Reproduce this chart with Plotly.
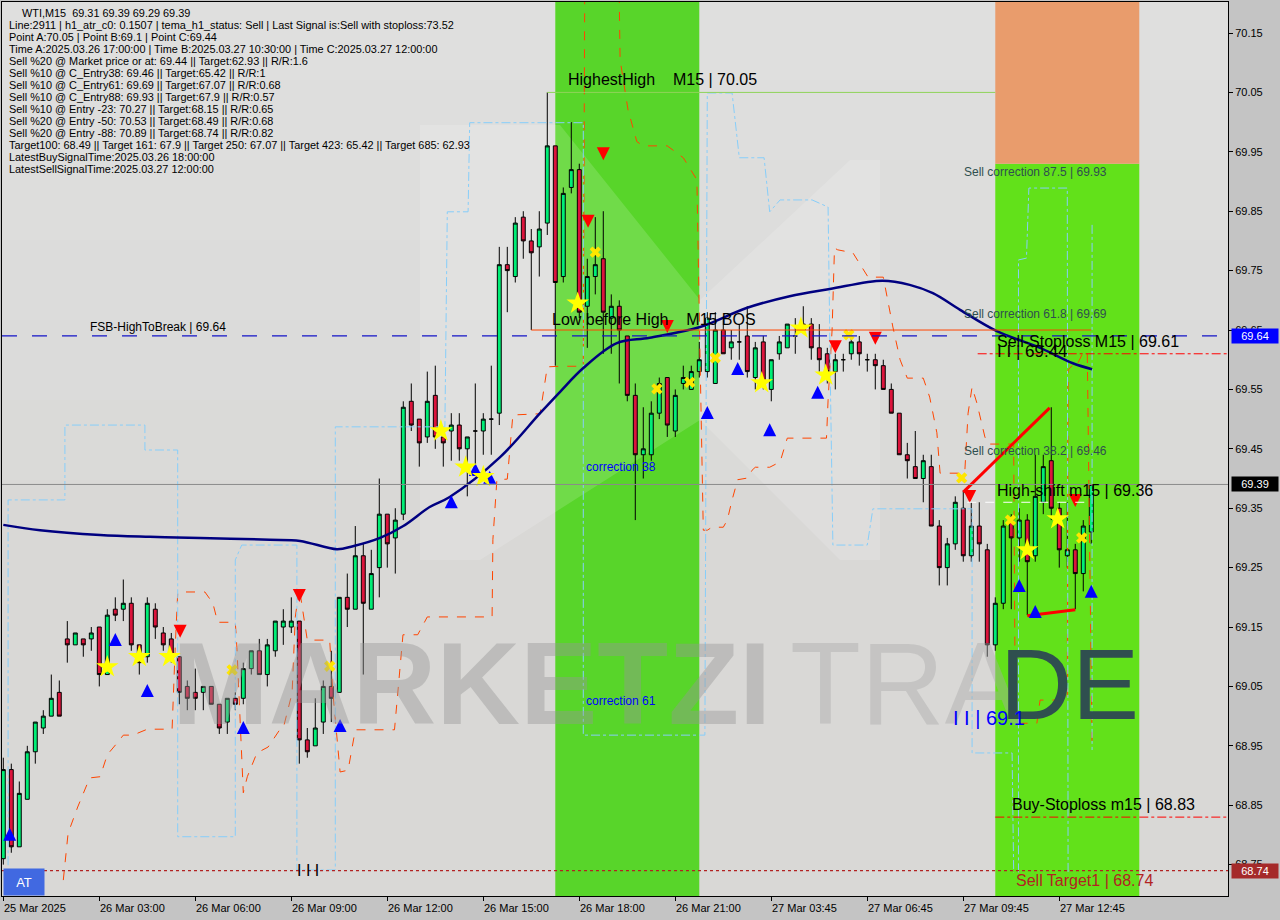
import plotly.graph_objects as go

W, H = 1280, 920
ML, MR, MT, MB = 2, 52, 2, 24
Y_MIN, Y_MAX = 68.6972, 70.2022
X_MIN, X_MAX = -0.1625, 153.09

# ---------------- data ----------------
opens = [68.76,68.91,68.78,68.86,68.94,68.98,69.00,69.04,69.13,69.12,69.13,69.13,69.15,69.07,69.18,69.18,69.19,69.12,69.10,69.18,
         69.14,69.13,69.10,69.05,69.04,69.04,69.05,69.02,68.99,69.03,69.03,69.08,69.11,69.07,69.11,69.15,69.15,69.16,68.96,68.95,
         68.99,69.05,69.04,69.20,69.18,69.27,69.18,69.25,69.34,69.30,69.34,69.53,69.50,69.47,69.54,69.47,69.48,69.49,69.45,69.48,
         69.48,69.50,69.51,69.76,69.74,69.84,69.80,69.79,69.83,69.96,69.74,69.89,69.92,69.69,69.74,69.77,69.67,69.69,69.64,69.54,
         69.44,69.44,69.51,69.57,69.48,69.56,69.55,69.58,69.58,69.56,69.65,69.62,69.63,69.64,69.57,69.63,69.55,69.61,69.62,69.64,
         69.66,69.66,69.62,69.61,69.58,69.60,69.61,69.63,69.60,69.60,69.59,69.55,69.51,69.44,69.42,69.40,69.42,69.32,69.25,69.29,
         69.35,69.27,69.32,69.28,69.12,69.19,69.33,69.30,69.33,69.27,69.36,69.43,69.35,69.27,69.28,69.24,69.31]
highs = [68.93,68.92,68.89,68.95,68.99,69.01,69.07,69.06,69.16,69.14,69.13,69.15,69.15,69.18,69.20,69.23,69.20,69.12,69.20,69.19,
         69.15,69.14,69.10,69.06,69.08,69.05,69.05,69.02,69.03,69.04,69.09,69.11,69.13,69.13,69.16,69.18,69.20,69.16,68.98,69.03,
         69.06,69.11,69.20,69.24,69.32,69.29,69.28,69.40,69.34,69.35,69.53,69.56,69.50,69.58,69.59,69.48,69.51,69.51,69.47,69.56,
         69.51,69.59,69.79,69.79,69.84,69.85,69.82,69.85,70.05,69.96,69.89,70.00,69.93,69.77,69.84,69.85,69.71,69.70,69.64,69.56,
         69.52,69.53,69.57,69.57,69.55,69.59,69.59,69.63,69.68,69.68,69.67,69.65,69.66,69.69,69.63,69.64,69.60,69.64,69.66,69.67,
         69.69,69.67,69.66,69.62,69.61,69.61,69.64,69.64,69.61,69.61,69.60,69.56,69.51,69.46,69.48,69.44,69.44,69.33,69.30,69.37,
         69.38,69.36,69.36,69.29,69.20,69.33,69.34,69.35,69.34,69.44,69.44,69.52,69.36,69.36,69.29,69.33,69.39]
lows = [68.75,68.77,68.78,68.86,68.92,68.97,69.00,69.00,69.09,69.12,69.10,69.11,69.05,69.07,69.16,69.16,69.11,69.07,69.09,69.13,
        69.11,69.09,69.02,69.01,69.01,69.01,69.02,68.97,68.97,69.01,69.02,69.07,69.07,69.05,69.10,69.12,69.14,68.92,68.93,68.95,
        68.97,68.99,69.04,69.15,69.18,69.07,69.18,69.20,69.25,69.24,69.33,69.48,69.42,69.46,69.45,69.42,69.43,69.43,69.37,69.41,
        69.44,69.44,69.49,69.68,69.73,69.77,69.65,69.74,69.81,69.59,69.73,69.88,69.67,69.62,69.71,69.61,69.61,69.56,69.53,69.33,
        69.40,69.43,69.50,69.47,69.47,69.55,69.55,69.57,69.57,69.56,69.61,69.60,69.60,69.57,69.55,69.55,69.53,69.60,69.62,69.61,
        69.65,69.60,69.58,69.56,69.55,69.58,69.60,69.59,69.58,69.55,69.55,69.51,69.44,69.40,69.40,69.36,69.32,69.22,69.22,69.28,
        69.26,69.26,69.26,69.10,69.11,69.18,69.18,69.26,69.17,69.26,69.34,69.33,69.25,69.25,69.18,69.21,69.29]
closes = [68.91,68.78,68.87,68.94,68.99,69.00,69.03,69.00,69.12,69.14,69.12,69.14,69.07,69.17,69.17,69.19,69.12,69.09,69.19,69.15,
          69.12,69.10,69.04,69.03,69.03,69.05,69.02,68.98,69.03,69.02,69.08,69.11,69.07,69.12,69.16,69.16,69.16,68.96,68.94,68.98,
          69.05,69.03,69.20,69.18,69.27,69.19,69.24,69.34,69.29,69.33,69.52,69.49,69.46,69.53,69.47,69.46,69.49,69.45,69.47,69.48,
          69.50,69.50,69.76,69.75,69.83,69.80,69.78,69.82,69.96,69.73,69.88,69.92,69.68,69.74,69.76,69.68,69.69,69.65,69.54,69.44,
          69.45,69.51,69.56,69.49,69.54,69.57,69.58,69.60,69.67,69.65,69.61,69.63,69.63,69.58,69.62,69.56,69.60,69.63,69.66,69.64,
          69.65,69.62,69.60,69.58,69.60,69.60,69.63,69.61,69.60,69.59,69.55,69.51,69.44,69.43,69.40,69.43,69.32,69.25,69.29,69.36,
          69.27,69.32,69.29,69.12,69.19,69.32,69.30,69.33,69.26,69.37,69.42,69.35,69.28,69.28,69.24,69.32,69.39]
bars = list(range(len(opens)))

tick_bars = [0, 12, 24, 36, 48, 60, 72, 84, 96, 108, 120, 132]
tick_texts = ["25 Mar 2025", "26 Mar 03:00", "26 Mar 06:00", "26 Mar 09:00", "26 Mar 12:00", "26 Mar 15:00",
              "26 Mar 18:00", "26 Mar 21:00", "27 Mar 03:45", "27 Mar 06:45", "27 Mar 09:45", "27 Mar 12:45"]
price_ticks = [70.15, 70.05, 69.95, 69.85, 69.75, 69.65, 69.55, 69.45, 69.35, 69.25, 69.15, 69.05, 68.95, 68.85, 68.75]

ma_bar = [0, 4.6, 12.1, 18.3, 24.6, 33.3, 37.1, 41.7, 43.7, 47.1, 50.0, 53.3, 55.8, 62.1, 67.1, 69.6, 72.5, 76.7,
          80.8, 87.1, 92.9, 98.3, 103.3, 109.9, 113.3, 116.2, 119.6, 124.2, 129.6, 133.7, 136.1]
ma_val = [69.322, 69.313, 69.305, 69.302, 69.300, 69.297, 69.295, 69.281, 69.286, 69.300, 69.320, 69.352, 69.369,
          69.436, 69.510, 69.546, 69.586, 69.628, 69.637, 69.655, 69.687, 69.707, 69.719, 69.733, 69.726, 69.712,
          69.684, 69.648, 69.620, 69.594, 69.584]

env_red_bar = [7.5, 8.1, 9.3, 10.8, 12.1, 13.0, 14.3, 15.0, 16.2, 18.0, 21.1, 21.2, 21.5, 21.8, 22.3, 25.2, 26.2, 26.8,
               29.0, 29.2, 29.6, 30.0, 30.5, 31.7, 33.1, 34.6, 35.0, 36.1, 36.5, 37.0, 38.0, 40.8, 41.2, 41.7, 42.1,
               43.1, 44.0, 48.9, 49.96, 51.8, 53.0, 61.1, 61.2, 61.7, 63.0, 63.7, 67.1, 68.0, 69.6, 72.5, 72.7, 76.9,
               77.1, 78.1, 79.2, 80.0, 83.0, 85.0, 86.7, 87.1, 87.5, 88.0, 88.6, 90.0, 90.5, 91.1, 91.8, 93.1, 93.6,
               94.0, 95.8, 97.1, 98.0, 102.9, 103.1, 103.6, 103.9, 104.3, 106.2, 108.1, 110.0, 111.2, 112.1, 113.0,
               115.0, 115.8, 116.7, 117.1, 120.0, 120.2, 120.6, 121.1, 121.7, 122.7, 123.1, 126.1, 126.3, 126.5,
               129.2, 129.6, 133.0, 133.1, 133.7, 134.1, 135.0, 135.5, 136.1]
env_red_val = [68.724, 68.803, 68.847, 68.896, 68.898, 68.935, 68.956, 68.968, 68.968, 68.978, 68.978, 69.022, 69.120,
               69.207, 69.209, 69.209, 69.190, 69.158, 69.158, 69.116, 68.999, 68.871, 68.898, 68.938, 68.948, 68.978,
               68.980, 69.039, 69.167, 69.216, 69.128, 69.128, 69.039, 68.965, 68.906, 68.909, 68.977, 68.977, 69.137,
               69.137, 69.167, 69.167, 69.297, 69.398, 69.399, 69.507, 69.509, 69.588, 69.589, 69.589, 70.30, 70.30,
               70.105, 70.020, 69.967, 69.960, 69.960, 69.940, 69.903, 69.600, 69.313, 69.313, 69.318, 69.318, 69.330,
               69.364, 69.398, 69.401, 69.414, 69.419, 69.419, 69.428, 69.468, 69.468, 69.532, 69.650, 69.788, 69.785,
               69.780, 69.739, 69.739, 69.655, 69.600, 69.569, 69.569, 69.537, 69.477, 69.409, 69.409, 69.414, 69.510,
               69.554, 69.527, 69.470, 69.458, 69.458, 69.458, 68.988, 68.988, 69.027, 69.027, 69.583, 69.591, 69.588,
               69.613, 69.613, 68.948]

env_blue_bar = [0.6, 0.6, 7.7, 7.7, 17.7, 17.7, 21.8, 21.8, 29.0, 29.0, 29.8, 36.7, 36.7, 41.5, 41.5, 55.2, 55.5, 58.1,
                58.3, 72.1, 72.5, 72.5, 86.8, 87.7, 88.0, 91.1, 92.0, 95.1, 95.8, 97.1, 101.1, 103.1, 103.4, 103.7,
                108.0, 108.7, 121.1, 121.1, 126.1, 126.3, None, 126.9, 126.9, 127.9, 128.2, 133.0, 133.1, None,
                136.1, 136.1]
env_blue_val = [68.749, 69.364, 69.364, 69.490, 69.490, 69.448, 69.448, 68.797, 68.797, 69.263, 69.288, 69.288, 68.741,
                68.741, 69.487, 69.487, 69.849, 69.849, 69.999, 69.999, 69.999, 68.968, 68.968, 68.968, 70.049, 70.049,
                69.940, 69.940, 69.849, 69.869, 69.869, 69.857, 69.549, 69.288, 69.288, 69.349, 69.349, 68.938, 68.938,
                68.737, None, 68.737, 69.768, 69.771, 69.889, 69.889, 68.737, None, 69.827, 68.943]

buy_arrow_bar = [0.8, 14.0, 18.0, 30.0, 42.1, 56.0, 59.0, 60.8, 88.0, 91.8, 95.8, 101.8, 127.0, 129.0, 136.0]
buy_arrow_val = [68.812, 69.140, 69.054, 68.992, 68.995, 69.372, 69.426, 69.413, 69.522, 69.596, 69.493, 69.556,
                 69.231, 69.187, 69.221]
sell_arrow_bar = [22.1, 37.0, 73.1, 75.0, 83.0, 104.0, 109.0, 120.8, 134.0]
sell_arrow_val = [69.132, 69.192, 69.822, 69.936, 69.645, 69.611, 69.625, 69.359, 69.352]
star_bar = [13.0, 17.0, 20.8, 54.7, 57.8, 60.0, 71.8, 94.8, 99.7, 102.8, 128.0, 131.8]
star_val = [69.083, 69.100, 69.100, 69.480, 69.419, 69.403, 69.695, 69.561, 69.653, 69.574, 69.280, 69.332]
cross_bar = [28.6, 40.8, 74.0, 81.7, 85.8, 89.0, 105.7, 119.8, 125.9, 134.8]
cross_val = [69.078, 69.084, 69.781, 69.551, 69.562, 69.603, 69.642, 69.401, 69.330, 69.300]

trend_hi_bar, trend_hi_val = [120.0, 130.8], [69.377, 69.519]
trend_lo_bar, trend_lo_val = [128.0, 134.0], [69.169, 69.179]

zone_bars = [(69, 87), (124, 142)]
sell_zone_top = 69.93

highest_high = 70.05
low_before_high = 69.65
fsb_level = 69.64
last_price = 69.39
sell_stoploss = 69.61
buy_stoploss = 68.83
sell_target1 = 68.74
high_shift = 69.36
corr_875, corr_618, corr_382 = 69.93, 69.69, 69.46
point_b = 69.1
point_c = 69.44

header_lines = [
    "WTI,M15  69.31 69.39 69.29 69.39",
    "Line:2911 | h1_atr_c0: 0.1507 | tema_h1_status: Sell | Last Signal is:Sell with stoploss:73.52",
    "Point A:70.05 | Point B:69.1 | Point C:69.44",
    "Time A:2025.03.26 17:00:00 | Time B:2025.03.27 10:30:00 | Time C:2025.03.27 12:00:00",
    "Sell %20 @ Market price or at: 69.44 || Target:62.93 || R/R:1.6",
    "Sell %10 @ C_Entry38: 69.46 || Target:65.42 || R/R:1",
    "Sell %10 @ C_Entry61: 69.69 || Target:67.07 || R/R:0.68",
    "Sell %10 @ C_Entry88: 69.93 || Target:67.9 || R/R:0.57",
    "Sell %10 @ Entry -23: 70.27 || Target:68.15 || R/R:0.65",
    "Sell %20 @ Entry -50: 70.53 || Target:68.49 || R/R:0.68",
    "Sell %20 @ Entry -88: 70.89 || Target:68.74 || R/R:0.82",
    "Target100: 68.49 || Target 161: 67.9 || Target 250: 67.07 || Target 423: 65.42 || Target 685: 62.93",
    "LatestBuySignalTime:2025.03.26 18:00:00",
    "LatestSellSignalTime:2025.03.27 12:00:00",
]

# ---------------- helpers (layout only) ----------------
PW, PH = W - ML - MR, H - MT - MB
def px(x):
    return (x - ML) / PW
def py(y):
    return 1 - (y - MT) / PH

FONT = "Liberation Sans"
fig = go.Figure()

# background shading (lighter upper part like the MT4 template)
for k in range(6):
    fig.add_shape(type="rect", xref="paper", yref="paper", x0=0, x1=1, y0=py(80 + 80 * k), y1=1,
                  fillcolor="rgba(255,255,255,0.05)", line_width=0, layer="below")

# zones
fig.add_shape(type="rect", xref="x", yref="paper", x0=zone_bars[0][0], x1=zone_bars[0][1], y0=0, y1=1,
              fillcolor="#58D52A", line_width=0, layer="below")
fig.add_shape(type="rect", xref="x", yref="y", x0=zone_bars[1][0], x1=zone_bars[1][1], y0=Y_MIN, y1=sell_zone_top,
              fillcolor="#62E11A", line_width=0, layer="below")
fig.add_shape(type="rect", xref="x", yref="y", x0=zone_bars[1][0], x1=zone_bars[1][1], y0=sell_zone_top, y1=Y_MAX,
              fillcolor="#E99C6C", line_width=0, layer="below")

# watermark-like light logo shape
logo = (f"M {px(420)} {py(125)} L {px(560)} {py(125)} L {px(700)} {py(300)} L {px(850)} {py(160)} "
        f"L {px(880)} {py(160)} L {px(880)} {py(560)} L {px(840)} {py(560)} L {px(700)} {py(420)} "
        f"L {px(480)} {py(560)} L {px(420)} {py(560)} Z")
fig.add_shape(type="path", xref="paper", yref="paper", path=logo, fillcolor="rgba(255,255,255,0.15)",
              line_width=0, layer="below")

fig.add_annotation(xref="paper", yref="paper", x=px(170), y=py(684), xanchor="left", yanchor="middle",
                   text="<b>MARKETZI</b>", showarrow=False, font=dict(family=FONT, size=116, color="rgba(150,150,150,0.42)"))
fig.add_annotation(xref="paper", yref="paper", x=px(788), y=py(684), xanchor="left", yanchor="middle",
                   text="TRA", showarrow=False, font=dict(family=FONT, size=116, color="rgba(170,170,170,0.42)"))
fig.add_annotation(xref="paper", yref="paper", x=px(998), y=py(684), xanchor="left", yanchor="middle",
                   text="DE", showarrow=False, font=dict(family=FONT, size=100, color="#2F4F4F"))

# horizontal levels
fig.add_hline(y=fsb_level, line=dict(color="#1515C8", width=1.2, dash="longdash"))
fig.add_hline(y=last_price, line=dict(color="#8A8A8A", width=1))
fig.add_hline(y=sell_target1, line=dict(color="#B22222", width=1.2, dash="dot"))
fig.add_shape(type="line", xref="x", yref="y", x0=68, x1=124, y0=highest_high, y1=highest_high,
              line=dict(color="#8FD35A", width=1))
fig.add_shape(type="line", xref="x", yref="y", x0=66, x1=136, y0=low_before_high, y1=low_before_high,
              line=dict(color="#FF4500", width=1))
fig.add_shape(type="line", xref="x", yref="y", x0=121.8, x1=X_MAX, y0=sell_stoploss, y1=sell_stoploss,
              line=dict(color="#FF0000", width=1, dash="dashdot"))
fig.add_shape(type="line", xref="x", yref="y", x0=124, x1=X_MAX, y0=buy_stoploss, y1=buy_stoploss,
              line=dict(color="#FF0000", width=1, dash="dashdot"))
fig.add_shape(type="line", xref="x", yref="y", x0=120.5, x1=136, y0=high_shift, y1=high_shift,
              line=dict(color="#FFFFFF", width=1, dash="dash"))

# envelopes
fig.add_trace(go.Scatter(x=env_red_bar, y=env_red_val, mode="lines", line=dict(color="#FF4500", width=1, dash="dash"),
                         hoverinfo="skip", showlegend=False))
fig.add_trace(go.Scatter(x=env_blue_bar, y=env_blue_val, mode="lines", line=dict(color="#87CEFA", width=1, dash="dashdot"),
                         hoverinfo="skip", showlegend=False, connectgaps=False))

# candles
fig.add_trace(go.Candlestick(x=bars, open=opens, high=highs, low=lows, close=closes,
                             increasing=dict(fillcolor="#00EE76", line=dict(color="#000000", width=1)),
                             decreasing=dict(fillcolor="#DC143C", line=dict(color="#000000", width=1)),
                             whiskerwidth=0, showlegend=False, hoverinfo="skip"))

# moving average
fig.add_trace(go.Scatter(x=ma_bar, y=ma_val, mode="lines", line=dict(color="#000080", width=2.5, shape="spline"),
                         hoverinfo="skip", showlegend=False))

# trend lines
fig.add_trace(go.Scatter(x=trend_hi_bar, y=trend_hi_val, mode="lines", line=dict(color="#FF0000", width=3),
                         hoverinfo="skip", showlegend=False))
fig.add_trace(go.Scatter(x=trend_lo_bar, y=trend_lo_val, mode="lines", line=dict(color="#FF0000", width=3),
                         hoverinfo="skip", showlegend=False))

# signal markers
fig.add_trace(go.Scatter(x=buy_arrow_bar, y=buy_arrow_val, mode="markers",
                         marker=dict(symbol="arrow-up", size=13, color="#0000FF", line=dict(width=0)),
                         hoverinfo="skip", showlegend=False))
fig.add_trace(go.Scatter(x=sell_arrow_bar, y=sell_arrow_val, mode="markers",
                         marker=dict(symbol="arrow-down", size=13, color="#FF0000", line=dict(width=0)),
                         hoverinfo="skip", showlegend=False))
fig.add_trace(go.Scatter(x=star_bar, y=star_val, mode="markers",
                         marker=dict(symbol="star", size=17, color="#FFFF00", line=dict(width=0)),
                         hoverinfo="skip", showlegend=False))
fig.add_trace(go.Scatter(x=cross_bar, y=cross_val, mode="markers",
                         marker=dict(symbol="x", size=10, color="#FFE600", line=dict(width=0)),
                         hoverinfo="skip", showlegend=False))

# level labels
def lab(xb, yv, text, size=16, color="#000000", yshift=0, anchor="bottom"):
    fig.add_annotation(x=xb, y=yv, xref="x", yref="y", text=text, showarrow=False, xanchor="left", yanchor=anchor,
                       yshift=yshift, font=dict(family=FONT, size=size, color=color))

lab(70.4, highest_high, "HighestHigh    M15 | " + f"{highest_high:.2f}", 16, yshift=2)
lab(68.4, low_before_high, "Low before High    M15 BOS", 16, yshift=0)
lab(10.6, fsb_level, "FSB-HighToBreak | " + f"{fsb_level:.2f}", 12, yshift=0)
lab(119.8, corr_875, f"Sell correction 87.5 | {corr_875:.2f}", 12, color="#2F4F4F", yshift=-8, anchor="middle")
lab(119.8, corr_618, f"Sell correction 61.8 | {corr_618:.2f}", 12, color="#2F4F4F", yshift=-8, anchor="middle")
lab(119.8, corr_382, f"Sell correction 38.2 | {corr_382:.2f}", 12, color="#2F4F4F", yshift=-8, anchor="middle")
lab(124.0, sell_stoploss, f"Sell-Stoploss M15 | {sell_stoploss:.2f}", 16, yshift=2)
lab(124.0, sell_stoploss, f"I I | {point_c:.2f}", 17, yshift=2, anchor="middle")
lab(124.0, high_shift, f"High-shift m15 | {high_shift:.2f}", 16, yshift=1)
lab(125.8, buy_stoploss, f"Buy-Stoploss m15 | {buy_stoploss:.2f}", 16, yshift=2)
lab(126.3, sell_target1, f"Sell Target1 | {sell_target1:.2f}", 16, color="#B22222", yshift=-20)
lab(118.5, point_b, f"I I | {point_b:.1f}", 20, color="#0000FF", yshift=-74)
lab(72.6, 69.42, "correction 38", 12, color="#0000FF", anchor="middle")
lab(72.6, 69.025, "correction 61", 12, color="#0000FF", anchor="middle")
lab(36.5, 68.74, "I I I", 16, yshift=0, anchor="middle")

# header text
for i, line in enumerate(header_lines):
    fig.add_annotation(xref="paper", yref="paper", x=px(20 if i == 0 else 7), y=py(13 + 12.0 * i),
                       xanchor="left", yanchor="middle", text=line, showarrow=False,
                       font=dict(family=FONT, size=10.9, color="#000000"))

# AT box
fig.add_annotation(xref="paper", yref="paper", x=px(3), y=py(896), xanchor="left", yanchor="bottom",
                   text="AT", showarrow=False, width=38, height=24, bgcolor="#4169E1",
                   font=dict(family=FONT, size=13, color="#FFFFFF"))

# right axis price boxes
for val, bg in [(fsb_level, "#0000FF"), (last_price, "#000000"), (sell_target1, "#A52A2A")]:
    fig.add_annotation(xref="paper", yref="y", x=1, y=val, xanchor="left", yanchor="middle", xshift=3,
                       text=f"{val:.2f}", showarrow=False, bgcolor=bg, width=44, height=12,
                       font=dict(family=FONT, size=11, color="#FFFFFF"))

# x tick labels (left aligned like MT4)
for b, t in zip(tick_bars, tick_texts):
    fig.add_annotation(xref="x", yref="paper", x=b, y=0, xanchor="left", yanchor="top", yshift=-4, xshift=-1,
                       text=t, showarrow=False, font=dict(family=FONT, size=11, color="#000000"))

fig.update_layout(
    width=W, height=H, margin=dict(l=ML, r=MR, t=MT, b=MB),
    paper_bgcolor="#C4C4C4", plot_bgcolor="#D9D8D6",
    showlegend=False,
    xaxis=dict(range=[X_MIN, X_MAX], showgrid=False, zeroline=False, showticklabels=False,
               tickvals=tick_bars, ticks="outside", ticklen=4, tickcolor="#000000",
               showline=True, linecolor="#000000", mirror=True, rangeslider=dict(visible=False)),
    yaxis=dict(range=[Y_MIN, Y_MAX], side="right", showgrid=False, zeroline=False,
               tickvals=price_ticks, ticktext=[f"{v:.2f}" for v in price_ticks],
               ticks="outside", ticklen=4, tickcolor="#000000",
               tickfont=dict(family=FONT, size=11, color="#000000"),
               showline=True, linecolor="#000000", mirror=True),
)

fig.write_html("out.html", config={"displayModeBar": False},
               post_script="document.body.style.margin='0px';document.body.style.overflow='hidden';")
